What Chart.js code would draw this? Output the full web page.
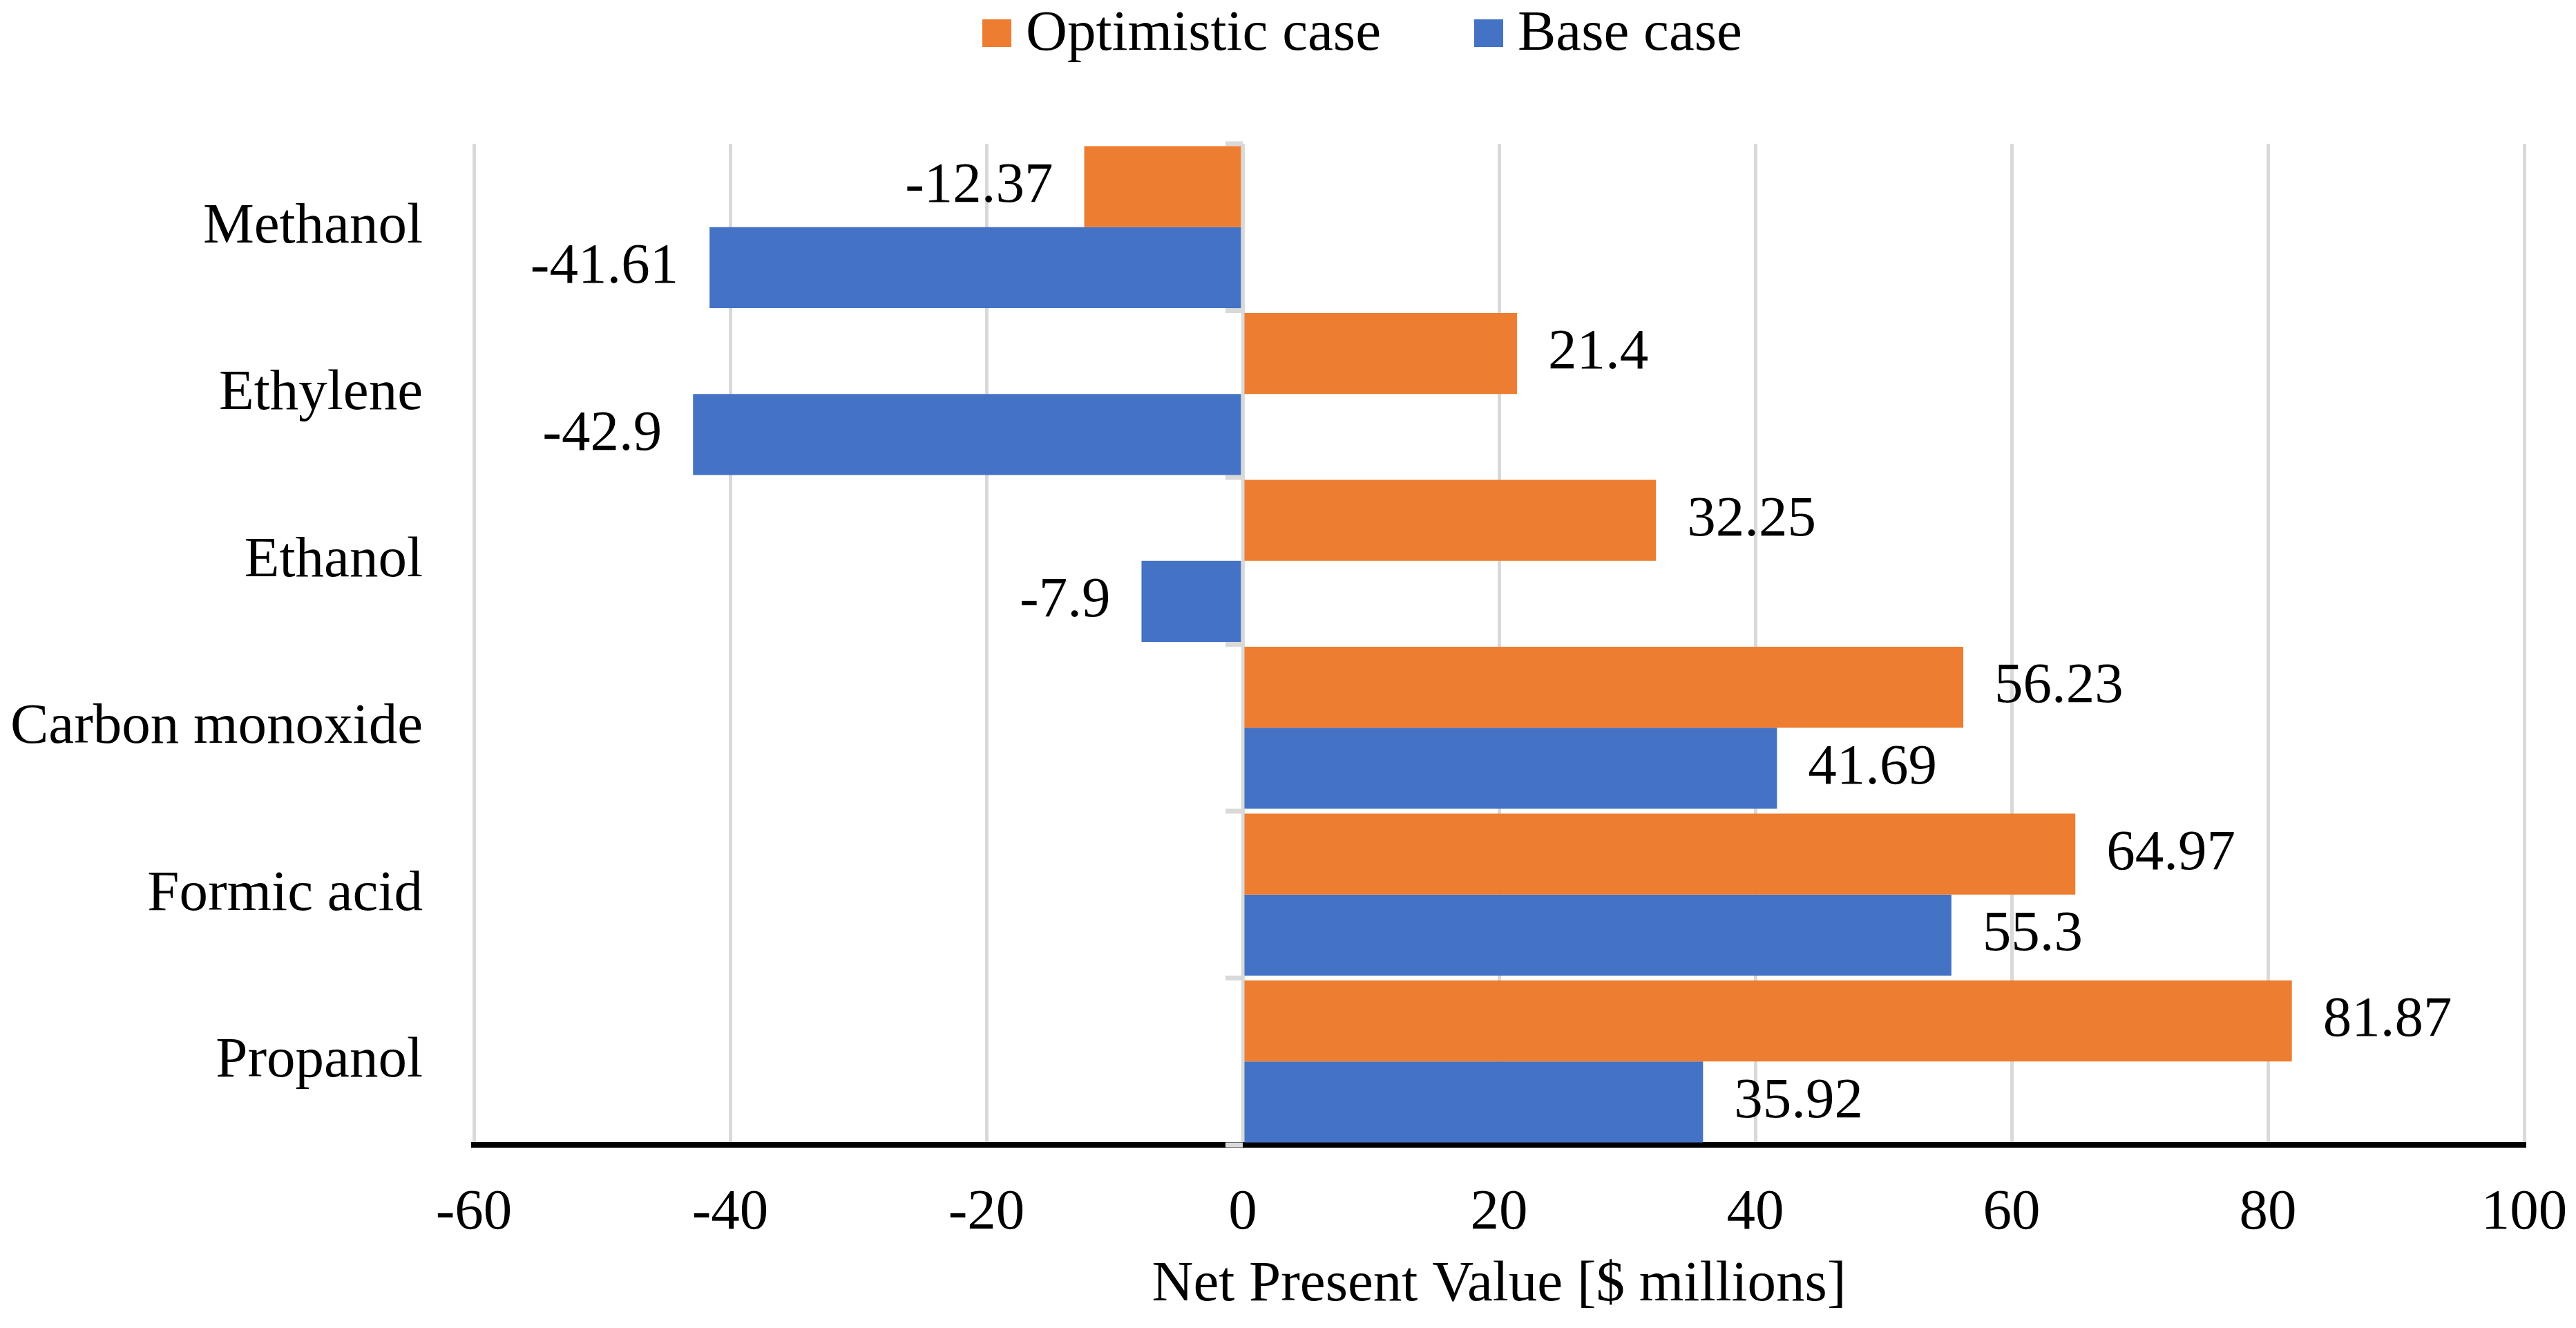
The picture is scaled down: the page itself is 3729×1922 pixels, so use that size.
<!DOCTYPE html>
<html><head><meta charset="utf-8">
<script src="https://cdn.jsdelivr.net/npm/chart.js@4.4.1/dist/chart.umd.min.js"></script>
<style>html,body{margin:0;padding:0;background:#fff;overflow:hidden}</style>
</head><body>
<canvas id="c" width="3729" height="1922"></canvas>
<script>
const categories = ['Methanol', 'Ethylene', 'Ethanol', 'Carbon monoxide', 'Formic acid', 'Propanol'];
const optimisticValues = [-12.37, 21.4, 32.25, 56.23, 64.97, 81.87];
const baseValues = [-41.61, -42.9, -7.9, 41.69, 55.3, 35.92];
const seriesNames = ['Optimistic case', 'Base case'];
const seriesColors = ['#ED7D31', '#4472C4'];
const xTicks = [-60, -40, -20, 0, 20, 40, 60, 80, 100];
const axisTitle = 'Net Present Value [$ millions]';

const FONT = '"Liberation Serif", "Times New Roman", serif';
const FS = 83;

const valueLabels = {
  id: 'valueLabels',
  afterDatasetsDraw(chart) {
    const ctx = chart.ctx;
    ctx.save();
    ctx.font = FS + 'px ' + FONT;
    ctx.fillStyle = '#000';
    ctx.textBaseline = 'middle';
    chart.data.datasets.forEach((ds, di) => {
      const meta = chart.getDatasetMeta(di);
      meta.data.forEach((bar, i) => {
        const v = ds.data[i];
        const gap = 45;
        if (v < 0) { ctx.textAlign = 'right'; ctx.fillText(String(v), bar.x - gap, bar.y); }
        else { ctx.textAlign = 'left'; ctx.fillText(String(v), bar.x + gap, bar.y); }
      });
    });
    ctx.restore();
  }
};

const zeroTicks = {
  id: 'zeroTicks',
  beforeDatasetsDraw(chart) {
    const ctx = chart.ctx, a = chart.chartArea;
    const x0 = chart.scales.x.getPixelForValue(0);
    const n = categories.length, band = (a.bottom - a.top) / n;
    ctx.save();
    ctx.strokeStyle = '#d9d9d9';
    ctx.lineWidth = 7;
    for (let k = 0; k <= n; k++) {
      const yy = a.top + k * band;
      ctx.beginPath(); ctx.moveTo(x0 - 25, yy); ctx.lineTo(x0, yy); ctx.stroke();
    }
    ctx.restore();
  }
};

const customLegend = {
  id: 'customLegend',
  afterDraw(chart) {
    const ctx = chart.ctx;
    ctx.save();
    ctx.font = FS + 'px ' + FONT;
    ctx.textBaseline = 'middle';
    ctx.textAlign = 'left';
    let x = 1422;
    const boxW = 42, boxH = 40, boxY = 28, textGap = 21, itemGap = 135;
    seriesNames.forEach((name, i) => {
      ctx.fillStyle = seriesColors[i];
      ctx.fillRect(x, boxY, boxW, boxH);
      x += boxW + textGap;
      ctx.fillStyle = '#000';
      ctx.fillText(name, x, boxY + boxH / 2 + 2);
      x += ctx.measureText(name).width + itemGap;
    });
    ctx.restore();
  }
};

new Chart(document.getElementById('c'), {
  type: 'bar',
  data: {
    labels: categories,
    datasets: [
      { label: seriesNames[0], data: optimisticValues, backgroundColor: seriesColors[0], borderWidth: 0 },
      { label: seriesNames[1], data: baseValues, backgroundColor: seriesColors[1], borderWidth: 0 }
    ]
  },
  options: {
    indexAxis: 'y',
    responsive: false,
    animation: false,
    devicePixelRatio: 1,
    datasets: { bar: { categoryPercentage: 0.97, barPercentage: 1.0 } },
    layout: { padding: { top: 208, right: 75, bottom: 0, left: 0 } },
    plugins: { legend: { display: false }, tooltip: { enabled: false } },
    scales: {
      x: {
        min: -60, max: 100,
        afterBuildTicks: s => { s.ticks = xTicks.map(v => ({ value: v })); },
        afterFit: s => { s.height = 1922 - 1657; s.paddingLeft = 0; s.paddingRight = 0; },
        grid: { color: '#d9d9d9', lineWidth: 5, drawTicks: false },
        border: { display: true, color: '#000', width: 8 },
        ticks: { color: '#000', padding: 49, font: { family: FONT, size: FS }, callback: v => String(v) },
        title: { display: true, text: axisTitle, color: '#000', font: { family: FONT, size: FS }, padding: { top: 0, bottom: 12 } }
      },
      y: {
        afterFit: s => { s.width = 686; s.paddingTop = 0; s.paddingBottom = 0; },
        grid: { display: false, drawTicks: false },
        border: { display: false },
        ticks: { color: '#000', padding: 74, font: { family: FONT, size: FS } }
      }
    }
  },
  plugins: [zeroTicks, valueLabels, customLegend]
});
</script>
</body></html>
